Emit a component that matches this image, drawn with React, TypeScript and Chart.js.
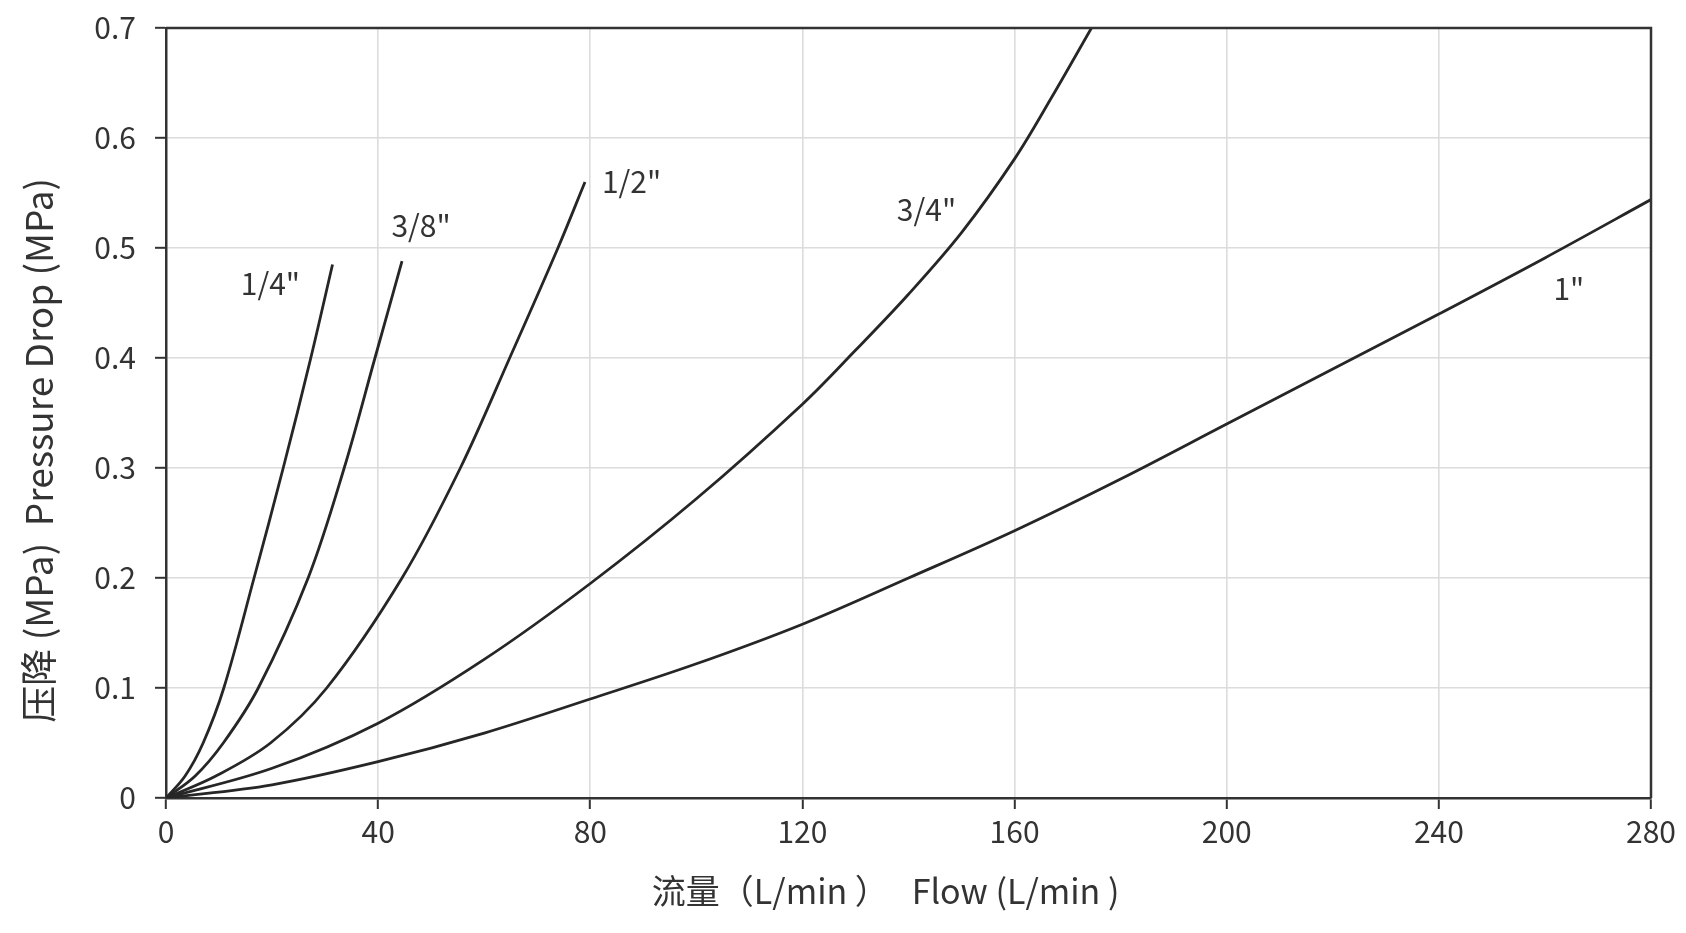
import { useEffect, useRef } from 'react';
import { Chart, registerables } from 'chart.js';

Chart.register(...registerables);

// curve labels (hose size)
const sizes = ['1/4"', '3/8"', '1/2"', '3/4"', '1"'];

// flow (L/min) / pressure drop (MPa)
const flow14 = [0, 3.6, 7.0, 10.9, 16.6, 22.1, 27.3, 31.4];
const drop14 = [0, 0.02, 0.05, 0.1, 0.2, 0.3, 0.4, 0.485];

const flow38 = [0, 5.5, 10.8, 17.4, 26.8, 33.6, 39.4, 44.5];
const drop38 = [0, 0.02, 0.05, 0.1, 0.2, 0.3, 0.4, 0.488];

const flow12 = [0, 9.4, 19.7, 30.3, 44.5, 55.5, 64.8, 73.9, 79.0];
const drop12 = [0, 0.02, 0.05, 0.1, 0.2, 0.3, 0.4, 0.5, 0.56];

const flow34 = [0, 20, 40, 60, 80, 100, 120, 130, 140, 150, 160, 167, 174.5];
const drop34 = [0, 0.027, 0.068, 0.126, 0.195, 0.272, 0.358, 0.407, 0.458, 0.514, 0.581, 0.637, 0.7];

const flow1 = [0, 20, 40, 60, 80, 100, 120, 140, 160, 180, 200, 220, 240, 260, 280];
const drop1 = [0, 0.012, 0.033, 0.059, 0.09, 0.122, 0.158, 0.2, 0.243, 0.29, 0.34, 0.39, 0.44, 0.491, 0.544];

// where each size label sits (left edge flow, middle drop)
const labelFlow = [14.1, 42.5, 82.2, 137.8, 261.6];
const labelDrop = [0.468, 0.52, 0.56, 0.535, 0.463];

const FONT = '"Noto Sans CJK SC", "Noto Sans", sans-serif';
const INK = '#333333';

const toPoints = (xs: number[], ys: number[]) => xs.map((x, i) => ({ x, y: ys[i] }));

// top/right frame + size labels
const framePlugin = {
  id: 'frameAndLabels',
  afterDatasetsDraw(chart: any) {
    const { ctx, chartArea: a, scales } = chart;
    ctx.save();
    ctx.strokeStyle = INK;
    ctx.lineWidth = 2.5;
    ctx.beginPath();
    ctx.moveTo(a.left, a.top);
    ctx.lineTo(a.right, a.top);
    ctx.lineTo(a.right, a.bottom);
    ctx.stroke();

    ctx.font = `30px ${FONT}`;
    ctx.fillStyle = INK;
    ctx.textAlign = 'left';
    ctx.textBaseline = 'middle';
    sizes.forEach((s, i) => {
      ctx.fillText(s, scales.x.getPixelForValue(labelFlow[i]), scales.y.getPixelForValue(labelDrop[i]));
    });
    ctx.restore();
  },
};

export default function App() {
  const chartRef = useRef<HTMLCanvasElement>(null);
  const chartInstance = useRef<Chart | null>(null);

  useEffect(() => {
    if (!chartRef.current) return;
    if (chartInstance.current) chartInstance.current.destroy();

    const ctx = chartRef.current.getContext('2d');
    if (!ctx) return;

    const series = [
      toPoints(flow14, drop14),
      toPoints(flow38, drop38),
      toPoints(flow12, drop12),
      toPoints(flow34, drop34),
      toPoints(flow1, drop1),
    ];

    chartInstance.current = new Chart(ctx, {
      type: 'line',
      data: {
        datasets: series.map((data, i) => ({
          label: sizes[i],
          data,
          borderColor: '#262626',
          borderWidth: 2.8,
          pointRadius: 0,
          tension: 0.35,
          fill: false,
        })),
      },
      options: {
        animation: false,
        responsive: true,
        maintainAspectRatio: false,
        layout: { padding: { top: 28, right: 35, left: 0, bottom: 0 } },
        plugins: {
          legend: { display: false },
          tooltip: { enabled: false },
        },
        scales: {
          x: {
            type: 'linear',
            min: 0,
            max: 280,
            afterFit: (s: any) => {
              s.height = 135;
            },
            ticks: {
              stepSize: 40,
              color: INK,
              padding: 5,
              font: { family: FONT, size: 30 },
            },
            grid: { color: '#dcdcdc', lineWidth: 1.6, tickColor: INK, tickLength: 11, tickWidth: 2 },
            border: { color: INK, width: 2.5 },
            title: {
              display: true,
              text: '流量（L/min ）   Flow (L/min )      ',
              color: INK,
              font: { family: FONT, size: 34 },
              padding: { top: 0, bottom: 22 },
            },
          },
          y: {
            type: 'linear',
            min: 0,
            max: 0.7,
            afterFit: (s: any) => {
              s.width = 166;
              // keep the tick padding from pushing the plot top down
              s.paddingTop = 18;
              s.paddingBottom = 18;
            },
            ticks: {
              stepSize: 0.1,
              color: INK,
              padding: 19,
              font: { family: FONT, size: 30 },
              callback: (v: any) => String(Number(Number(v).toFixed(1))),
            },
            grid: { color: '#dcdcdc', lineWidth: 1.6, tickColor: INK, tickLength: 11, tickWidth: 2 },
            border: { color: INK, width: 2.5 },
            title: {
              display: true,
              text: '压降 (MPa)  Pressure Drop (MPa)         ',
              color: INK,
              font: { family: FONT, size: 37 },
              padding: { top: 17, bottom: 0 },
            },
          },
        },
      },
      plugins: [framePlugin],
    });

    return () => {
      if (chartInstance.current) {
        chartInstance.current.destroy();
        chartInstance.current = null;
      }
    };
  }, []);

  return (
    <div style={{ position: 'fixed', inset: 0, background: '#fff' }}>
      <canvas ref={chartRef} />
    </div>
  );
}
